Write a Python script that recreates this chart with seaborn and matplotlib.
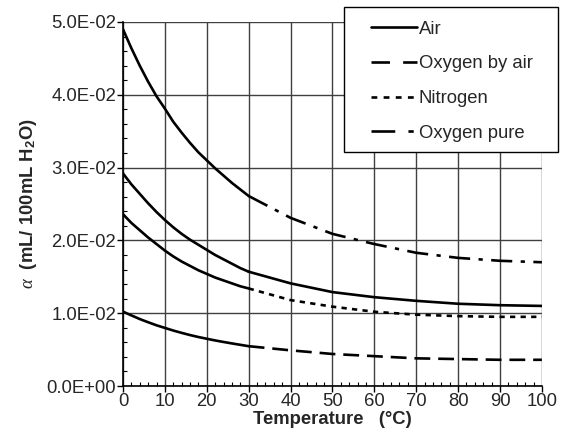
import matplotlib
matplotlib.use("Agg")
import matplotlib.pyplot as plt
import matplotlib.ticker as mticker
from matplotlib.patches import Rectangle
from matplotlib.lines import Line2D
import seaborn as sns
import pandas as pd

sns.set_style("white")
plt.rcParams['font.family'] = ['Liberation Sans', 'DejaVu Sans']
plt.rcParams['mathtext.fontset'] = 'custom'
plt.rcParams['mathtext.rm'] = 'Liberation Sans:bold'
plt.rcParams['mathtext.bf'] = 'Liberation Sans:bold'
plt.rcParams['mathtext.it'] = 'Liberation Serif:italic'

# Data
temp_low = [0, 2, 4, 6, 8, 10, 12, 14, 16, 18, 20, 22, 24, 26, 28, 30]
temp_high = [30, 40, 50, 60, 70, 80, 90, 100]
series = ["Air", "Oxygen by air", "Nitrogen", "Oxygen pure"]
air_low = [0.0292, 0.0277, 0.0264, 0.0251, 0.0239, 0.0228, 0.0218, 0.0209,
           0.0201, 0.0194, 0.0187, 0.0180, 0.0174, 0.0168, 0.0162, 0.0157]
air_high = [0.0157, 0.0141, 0.0129, 0.0122, 0.0117, 0.0113, 0.0111, 0.0110]
o2air_low = [0.01022, 0.00970, 0.00920, 0.00876, 0.00834, 0.00798, 0.00762, 0.00730,
             0.00700, 0.00673, 0.00649, 0.00626, 0.00605, 0.00585, 0.00566, 0.00547]
o2air_high = [0.00547, 0.0049, 0.0044, 0.0041, 0.0038, 0.0037, 0.0036, 0.0036]
n2_low = [0.0236, 0.0224, 0.0214, 0.0204, 0.0195, 0.0186, 0.0178, 0.0171,
          0.0165, 0.0159, 0.0154, 0.0149, 0.0145, 0.0141, 0.0137, 0.0134]
n2_high = [0.0134, 0.0118, 0.0109, 0.0102, 0.0098, 0.0096, 0.0095, 0.0095]
o2_low = [0.0490, 0.0464, 0.0440, 0.0418, 0.0398, 0.0381, 0.0363, 0.0348,
          0.0334, 0.0321, 0.0310, 0.0299, 0.0289, 0.0279, 0.0270, 0.0261]
o2_high = [0.0261, 0.0231, 0.0209, 0.0195, 0.0183, 0.0176, 0.0172, 0.0170]

lows = [air_low, o2air_low, n2_low, o2_low]
highs = [air_high, o2air_high, n2_high, o2_high]
styles = ['-', (0, (6, 3)), (0, (2, 2)), (0, (8, 3.2, 1.6, 3.2))]
legend_styles = ['-', (0, (7, 5)), (0, (2.2, 2.4)), (0, (9, 5, 2, 5))]

fig = plt.figure(figsize=(5.71, 4.40), dpi=100)
ax = fig.add_axes([0.2154, 0.1227, 0.949 - 0.2154, 0.95 - 0.1227])

LW = 1.9
for name, lo, hi, ls in zip(series, lows, highs, styles):
    df_lo = pd.DataFrame({"T": temp_low, "a": lo})
    df_hi = pd.DataFrame({"T": temp_high, "a": hi})
    sns.lineplot(data=df_lo, x="T", y="a", ax=ax, color="black", lw=LW,
                 linestyle='-', zorder=3)
    l = sns.lineplot(data=df_hi, x="T", y="a", ax=ax, color="black", lw=LW,
                     zorder=3)
    l.lines[-1].set_linestyle(ls)

ax.set_xlim(0, 100)
ax.set_ylim(0, 0.05)
ax.xaxis.set_major_locator(mticker.MultipleLocator(10))
ax.xaxis.set_minor_locator(mticker.MultipleLocator(2))
ax.yaxis.set_major_locator(mticker.MultipleLocator(0.01))
ax.yaxis.set_minor_locator(mticker.MultipleLocator(0.002))
ax.yaxis.set_major_formatter(mticker.FuncFormatter(lambda v, p: f"{v:.1E}"))
ax.grid(True, which='major', color='#404040', lw=1.0, zorder=1)
ax.set_axisbelow(True)
for s in ['top', 'right']:
    ax.spines[s].set_visible(False)
for s in ['left', 'bottom']:
    ax.spines[s].set_color('black')
    ax.spines[s].set_linewidth(1.2)

FS = 13.3
ax.tick_params(which='major', direction='out', length=4, width=1, color='black',
               labelsize=FS, pad=1, left=True, bottom=True)
ax.tick_params(which='minor', direction='in', length=3, width=0.8, color='black',
               left=True, bottom=True)

ax.set_xlabel("Temperature   (°C)", fontsize=FS, fontweight='bold', labelpad=1)
ax.set_ylabel(r"$\alpha$  (mL/ 100mL H$_{2}$O)", fontsize=FS, fontweight='bold')
ax.yaxis.set_label_coords(-0.20, 0.5)

# legend box
W, H = 571, 440
rect = Rectangle((344 / W, 1 - 152 / H), (558 - 344) / W, (152 - 7) / H,
                 transform=fig.transFigure, facecolor='white', edgecolor='black',
                 lw=1.0, zorder=5)
fig.add_artist(rect)
handles = [Line2D([], [], color='black', lw=LW, linestyle=ls) for ls in legend_styles]
leg = fig.legend(handles, series, loc='upper left',
                 bbox_to_anchor=(358 / W, 1 - 8 / H), frameon=False,
                 fontsize=FS, handlelength=2.5, handletextpad=0.1,
                 labelspacing=0.95, borderpad=0.2)
leg.set_zorder(6)

fig.savefig("out.png", dpi=100)
